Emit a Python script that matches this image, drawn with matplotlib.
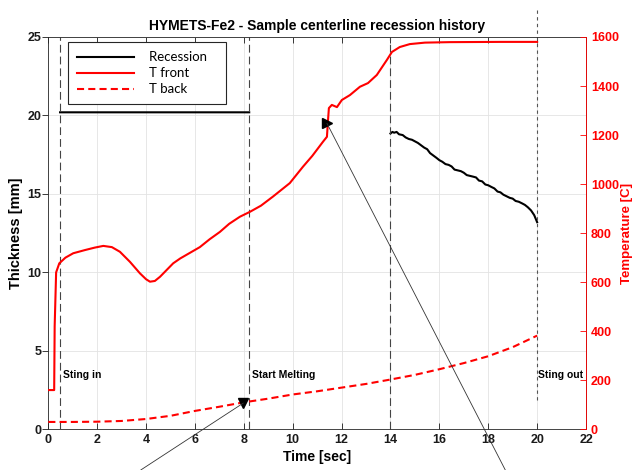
import numpy as np
import matplotlib
matplotlib.use('Agg')
import matplotlib.pyplot as plt

plt.rcParams['font.family'] = 'Liberation Sans'
plt.rcParams['font.weight'] = 'bold'
plt.rcParams['axes.labelweight'] = 'bold'
plt.rcParams['axes.titleweight'] = 'bold'

# recession [mm] - flat reference before melting, then measured recession (nan splits)
t_rec = [0.48, 8.22, np.nan,
         14.0, 14.08, 14.15, 14.25, 14.35, 14.5, 14.62, 14.75, 14.88, 15.0, 15.12, 15.25,
         15.38, 15.5, 15.62, 15.75, 15.88, 16.0, 16.12, 16.25, 16.38, 16.5, 16.62, 16.75,
         16.88, 17.0, 17.12, 17.25, 17.38, 17.5, 17.62, 17.75, 17.88, 18.0, 18.12, 18.25,
         18.38, 18.5, 18.62, 18.75, 18.88, 19.0, 19.12, 19.25, 19.38, 19.5, 19.62, 19.75,
         19.88, 20.0]
rec = [20.2, 20.2, np.nan,
       18.85, 18.95, 18.9, 18.95, 18.8, 18.75, 18.6, 18.5, 18.45, 18.35, 18.25, 18.1,
       17.95, 17.85, 17.6, 17.45, 17.3, 17.15, 17.05, 16.9, 16.85, 16.75, 16.55, 16.5,
       16.45, 16.35, 16.2, 16.15, 16.1, 16.05, 15.85, 15.8, 15.6, 15.55, 15.45, 15.35,
       15.15, 15.1, 14.95, 14.85, 14.75, 14.7, 14.55, 14.5, 14.4, 14.3, 14.15, 13.95,
       13.65, 13.2]

# front temperature [C]
t_front = [0.0, 0.24, 0.26, 0.32, 0.45, 0.7, 1.02, 1.5, 1.9, 2.25, 2.6, 2.93, 3.34, 3.75,
           4.0, 4.16, 4.36, 4.57, 5.11, 5.4, 5.8, 6.2, 6.6, 7.02, 7.4, 7.84, 8.25, 8.7,
           9.19, 9.88, 10.42, 10.8, 11.24, 11.4, 11.44, 11.48, 11.6, 11.81, 12.01, 12.34,
           12.75, 13.08, 13.44, 13.85, 14.06, 14.38, 14.79, 15.41, 16.43, 18.5, 20.0]
T_front = [160, 160, 420, 640, 677, 700, 718, 731, 741, 748, 743, 724, 683, 636,
           612, 602, 605, 622, 677, 697, 720, 743, 775, 805, 838, 867, 887, 912,
           949, 1004, 1071, 1115, 1173, 1193, 1254, 1310, 1323, 1314, 1343, 1363,
           1397, 1412, 1445, 1506, 1539, 1559, 1571, 1577, 1579, 1580, 1580]

# back temperature [C]
t_back = [0, 1, 2, 3, 4, 5, 6, 7, 8, 9, 10, 11, 12, 13, 14, 15, 16, 17, 18, 19, 20]
T_back = [30, 30, 31, 34, 42, 55, 75, 92, 110, 125, 142, 155, 170, 185, 203, 222,
          245, 270, 298, 335, 382]

# test events
event_t = [0.48, 8.22, 14.0, 20.0]
event_txt = ['Sting in', 'Start Melting', '', 'Sting out']

# arrow tips (time, temperature)
tip_back = (7.98, 107)
tip_front = (11.4, 1248)

fig = plt.figure(figsize=(6.34, 4.7), dpi=100)
ax = fig.add_axes([0.0762, 0.0866, 0.8481, 0.8347])
ax2 = ax.twinx()

ax.grid(True, color='#e3e3e3', linewidth=0.6)
ax.set_axisbelow(True)

l_rec, = ax.plot(t_rec, rec, color='black', lw=1.5, label='Recession')
l_front, = ax2.plot(t_front, T_front, color='red', lw=1.5, label='T front')
l_back, = ax2.plot(t_back, T_back, color='red', lw=1.5, dashes=(3.4, 2.0), label='T back')

for t, s in zip(event_t[:3], event_txt[:3]):
    ax.axvline(t, color='#444444', lw=0.8, dashes=(7, 3.6))
    if s:
        ax.text(t + 0.12, 3.47, s, fontsize=7.5, va='center', ha='left')
# sting out line runs off the top of the axes
ax.plot([event_t[3], event_t[3]], [0.075, 1.077], transform=ax.get_xaxis_transform(),
        color='#555555', lw=0.8, dashes=(3, 3), clip_on=False)
ax.text(event_t[3] + 0.02, 3.47, event_txt[3], fontsize=7.5, va='center', ha='left')

ax.set_xlim(0, 22)
ax.set_ylim(0, 25)
ax2.set_ylim(0, 1600)
ax.set_xticks(range(0, 23, 2))
ax.set_yticks(range(0, 26, 5))
ax2.set_yticks(range(0, 1601, 200))

ax.set_title('HYMETS-Fe2 - Sample centerline recession history', fontsize=10, pad=5)
ax.set_xlabel('Time [sec]', fontsize=10, labelpad=3)
ax.set_ylabel('Thickness [mm]', fontsize=10.5, labelpad=3)
ax2.set_ylabel('Temperature [C]', fontsize=9.5, color='red', labelpad=1.5)

ax.tick_params(axis='x', direction='in', top=True, length=4, width=0.6, labelsize=9, colors='#1a1a1a')
ax.tick_params(axis='y', direction='out', length=4, width=0.6, labelsize=9, colors='#1a1a1a', pad=1)
ax2.tick_params(axis='y', direction='in', length=4, width=0.6, labelsize=9, colors='red')
for sp in ax.spines.values():
    sp.set_color('#262626')
    sp.set_linewidth(0.6)
for k in ['left', 'top', 'bottom']:
    ax2.spines[k].set_visible(False)
ax2.spines['right'].set_color('red')
ax2.spines['right'].set_linewidth(0.6)

# arrows
for tip, tail, mk in [(tip_back, (0.222, 0.0), 'v'), (tip_front, (0.797, 0.0), '>')]:
    ax2.annotate('', xy=tip, xycoords='data', xytext=tail, textcoords='figure fraction',
                 arrowprops=dict(arrowstyle='-', color='#333333', lw=0.6, shrinkA=0, shrinkB=0),
                 annotation_clip=False)
    ax2.plot(tip[0], tip[1], marker=mk, color='black', markersize=7, clip_on=False)

leg = ax2.legend([l_rec, l_front, l_back], ['Recession   ', 'T front', 'T back'],
                 loc='upper left', bbox_to_anchor=(0.037, 0.987), borderaxespad=0,
                 fancybox=False, edgecolor='#262626', framealpha=1,
                 prop={'family': 'Lato', 'weight': 'normal', 'size': 9.5},
                 handlelength=4.3, handletextpad=1.1, borderpad=0.7, labelspacing=0.3)
leg.get_frame().set_linewidth(0.8)

fig.savefig('out.png', dpi=100)
